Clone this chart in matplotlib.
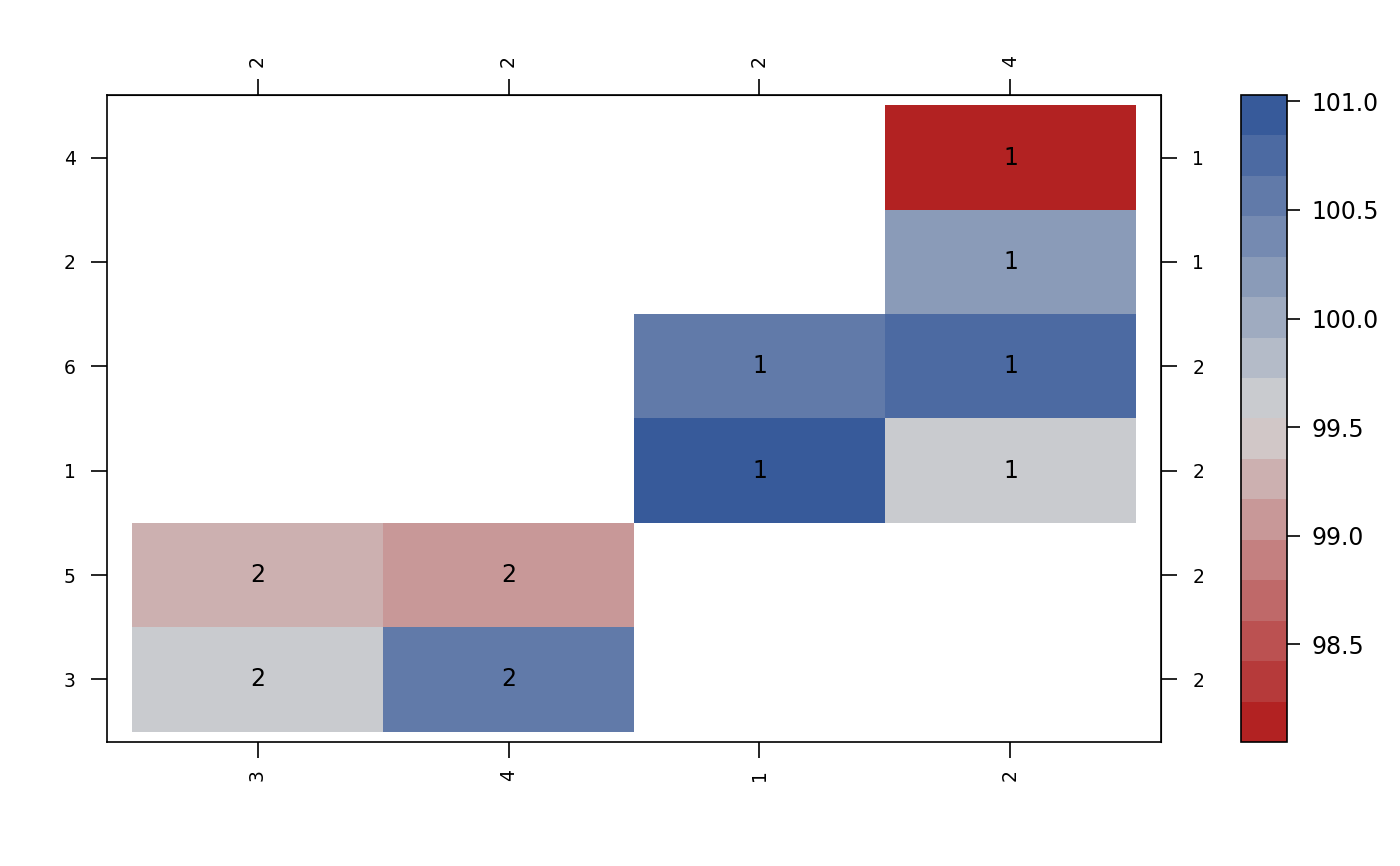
import matplotlib.pyplot as plt
import matplotlib.colors as mcolors
import numpy as np

# column labels (bottom axis) and their counts (top axis)
col_labels = ["3", "4", "1", "2"]
col_counts = ["2", "2", "2", "4"]
# row labels (left axis, bottom to top) and their counts (right axis)
row_labels = ["3", "5", "1", "6", "2", "4"]
row_counts = ["2", "2", "2", "2", "1", "1"]

# cell values, rows bottom to top, NaN = empty
values = np.array([
    [99.64, 100.57, np.nan, np.nan],
    [99.26, 99.08, np.nan, np.nan],
    [np.nan, np.nan, 101.0, 99.64],
    [np.nan, np.nan, 100.57, 100.75],
    [np.nan, np.nan, np.nan, 100.19],
    [np.nan, np.nan, np.nan, 98.08],
])
# text shown in each cell
cell_text = [
    ["2", "2", "", ""],
    ["2", "2", "", ""],
    ["", "", "1", "1"],
    ["", "", "1", "1"],
    ["", "", "", "1"],
    ["", "", "", "1"],
]

# colour levels like lattice: range extended by 1% each side, 16 bins
zmin, zmax = np.nanmin(values), np.nanmax(values)
pad = 0.01 * (zmax - zmin)
breaks = np.linspace(zmin - pad, zmax + pad, 17)
ramp = mcolors.LinearSegmentedColormap.from_list(
    "rg", ["#B22222", "#D3D3D3", "#375A9A"])
cmap = mcolors.ListedColormap([ramp(i / 15) for i in range(16)])
norm = mcolors.BoundaryNorm(breaks, cmap.N)

fig = plt.figure(figsize=(14, 8.66), dpi=100)
ax = fig.add_axes([0.0764, 0.1432, 0.7529, 0.7471])
cax = fig.add_axes([0.8864, 0.1432, 0.0329, 0.7471])

nrow, ncol = values.shape
xe = np.arange(ncol + 1) + 0.5
ye = np.arange(nrow + 1) + 0.5
mesh = ax.pcolormesh(xe, ye, np.ma.masked_invalid(values), cmap=cmap, norm=norm)

for i in range(nrow):
    for j in range(ncol):
        if cell_text[i][j]:
            ax.text(j + 1, i + 1, cell_text[i][j], ha="center", va="center",
                    fontsize=17)

ax.set_xlim(0.4, ncol + 0.6)
ax.set_ylim(0.4, nrow + 0.6)

ax.set_xticks(np.arange(1, ncol + 1))
ax.set_xticklabels(col_labels, rotation=90)
ax.set_yticks(np.arange(1, nrow + 1))
ax.set_yticklabels(row_labels)
ax.tick_params(axis="both", direction="out", length=11.5, width=1.2,
               labelsize=13.5)
ax.tick_params(axis="x", pad=8)
ax.tick_params(axis="y", pad=11)

top = ax.secondary_xaxis("top")
top.set_xticks(np.arange(1, ncol + 1))
top.set_xticklabels(col_counts, rotation=90)
top.tick_params(direction="out", length=11.5, width=1.2, labelsize=13.5, pad=9)

right = ax.secondary_yaxis("right")
right.set_yticks(np.arange(1, nrow + 1))
right.set_yticklabels(row_counts)
right.tick_params(direction="out", length=11.5, width=1.2, labelsize=13.5, pad=11)

for sp in ax.spines.values():
    sp.set_linewidth(1.2)

cb = fig.colorbar(mesh, cax=cax)
cb.set_ticks([98.5, 99.0, 99.5, 100.0, 100.5, 101.0])
cb.set_ticklabels(["98.5", "99.0", "99.5", "100.0", "100.5", "101.0"])
cb.ax.minorticks_off()
cb.ax.tick_params(length=9.5, width=1.2, labelsize=17, pad=8)
cb.outline.set_linewidth(1.2)

fig.savefig("out.png", dpi=100)
